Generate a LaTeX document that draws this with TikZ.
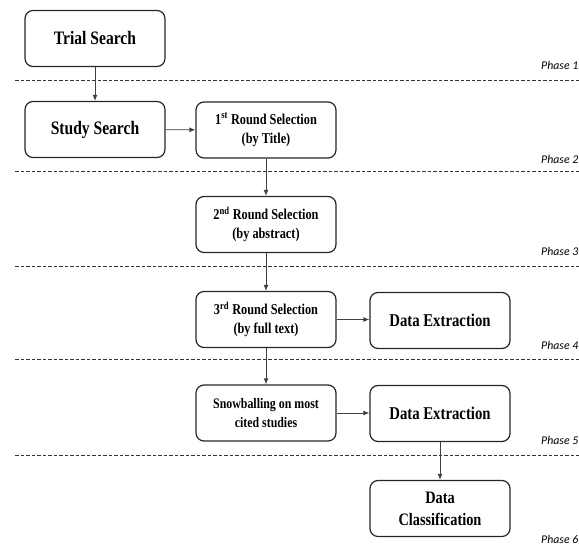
\documentclass[tikz,border=0pt]{standalone}
\usepackage{fontspec}
\setmainfont{Liberation Serif}
\newfontfamily\boxfont[FakeStretch=0.82]{Liberation Serif}
\newfontfamily\phasefont{Carlito}
\usetikzlibrary{arrows.meta}
\tikzset{
  stage/.style={draw=black!85,line width=1.2pt,rounded corners=8pt,minimum width=140pt,minimum height=56pt,align=center,inner sep=2pt,font=\boxfont\bfseries\fontsize{15}{19.5}\selectfont},
  bigstage/.style={stage,font=\boxfont\bfseries\fontsize{19}{22}\selectfont},
  flow/.style={draw=black!75,line width=0.9pt,-{Latex[length=6pt,width=5pt]}},
  phaseline/.style={draw=black!80,line width=0.7pt,dash pattern=on 3.5pt off 2pt},
  phaselabel/.style={anchor=west,inner sep=0pt,font=\phasefont\itshape\fontsize{11.8}{13}\selectfont}
}
\begin{document}
\begin{tikzpicture}[x=1pt,y=1pt,yscale=-1,xscale=1]
\useasboundingbox (0,0) rectangle (579,548);

% phase separators
\foreach \y in {80.5,171,266,359,455}
  \draw [phaseline] (15,\y) -- (579,\y);

% Phase labels
\node [phaselabel] (ph1) at (541,65.5) {Phase 1};
\node [phaselabel] (ph2) at (541,159) {Phase 2};
\node [phaselabel] (ph3) at (541,251) {Phase 3};
\node [phaselabel] (ph4) at (541,345) {Phase 4};
\node [phaselabel] (ph5) at (541,440) {Phase 5};
\node [phaselabel] (ph6) at (541,539) {Phase 6};

% Boxes
\node [bigstage] (trial) at (95,38.5) {Trial Search};
\node [bigstage] (study) at (95,129.5) {Study Search};
\node [stage] (round1) at (266,130) {1\textsuperscript{st} Round Selection\\(by Title)};
\node [stage] (round2) at (266,224.5) {2\textsuperscript{nd} Round Selection\\(by abstract)};
\node [stage] (round3) at (266,319.5) {3\textsuperscript{rd} Round Selection\\(by full text)};
\node [stage,font=\boxfont\bfseries\fontsize{18}{22}\selectfont] (extract1) at (440,320.5) {Data Extraction};
\node [stage,font=\boxfont\bfseries\fontsize{14.5}{19}\selectfont] (snow) at (266,413) {Snowballing on most\\cited studies};
\node [stage,font=\boxfont\bfseries\fontsize{18}{22}\selectfont] (extract2) at (440,413.5) {Data Extraction};
\node [stage,font=\boxfont\bfseries\fontsize{17.5}{22}\selectfont] (classify) at (440,508.5) {Data\\Classification};

% Connectors
\draw [flow] (trial) -- (study);
\draw [flow] (study) -- (round1);
\draw [flow] (round1) -- (round2);
\draw [flow] (round2) -- (round3);
\draw [flow] (round3.east) -- (round3.east -| extract1.west);
\draw [flow] (round3) -- (snow);
\draw [flow] (snow.east) -- (snow.east -| extract2.west);
\draw [flow] (extract2) -- (classify);

\end{tikzpicture}
\end{document}
